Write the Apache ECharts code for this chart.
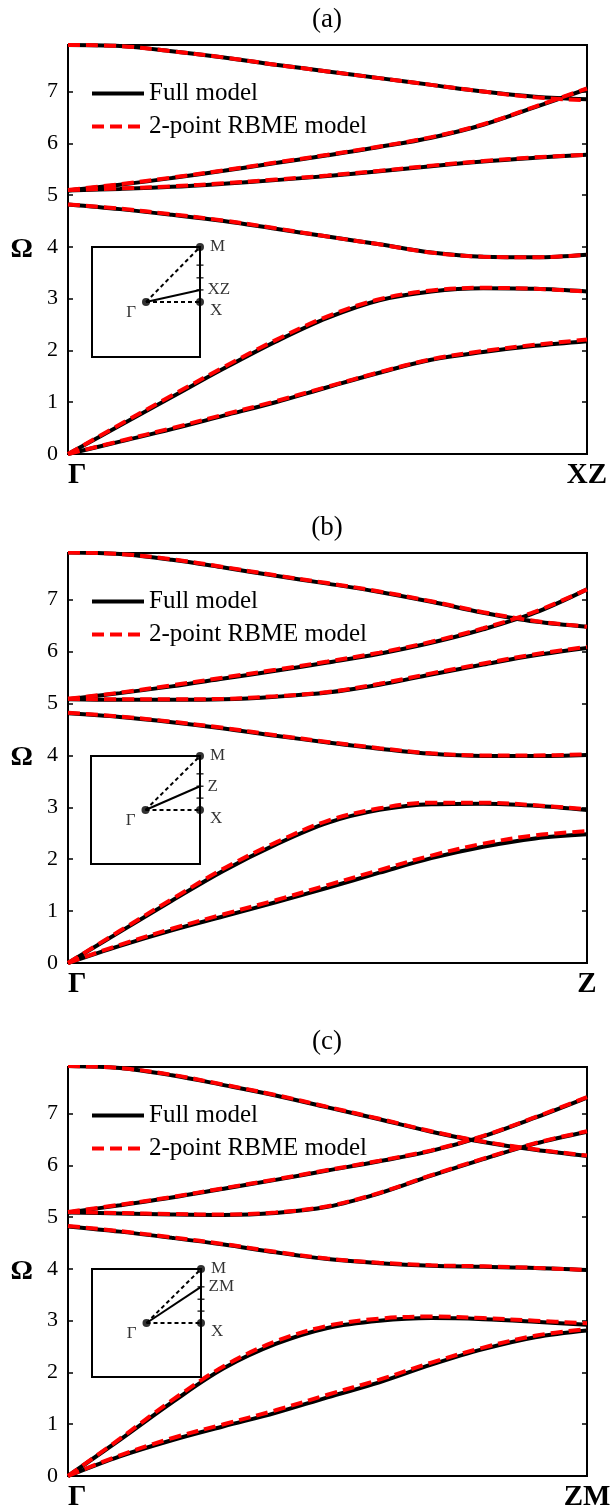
<!DOCTYPE html>
<html><head><meta charset="utf-8">
<script src="https://cdn.jsdelivr.net/npm/echarts@6/dist/echarts.min.js"></script>
<style>html,body{margin:0;padding:0;background:#fff}#c{width:616px;height:1512px}</style>
</head><body><div id="c"></div>
<script>
// ---------- data ----------
const K = [0, 0.1, 0.2, 0.3, 0.4, 0.5, 0.6, 0.7, 0.8, 0.9, 1];
const PANEL_TITLES = ['(a)', '(b)', '(c)'];
const START_LABEL = 'Γ';
const END_LABELS = ['XZ', 'Z', 'ZM'];
const SERIES_NAMES = ['Full model', '2-point RBME model'];
const Y_LABEL = 'Ω';

// panel (a): Γ -> XZ, six bands
const A_FULL = [
  [0, 0.24, 0.48, 0.74, 1.0, 1.29, 1.57, 1.82, 1.97, 2.09, 2.18],
  [0, 0.55, 1.1, 1.65, 2.17, 2.63, 2.97, 3.14, 3.2, 3.19, 3.14],
  [4.82, 4.73, 4.62, 4.5, 4.35, 4.2, 4.05, 3.89, 3.81, 3.8, 3.85],
  [5.09, 5.12, 5.16, 5.22, 5.29, 5.37, 5.46, 5.56, 5.65, 5.72, 5.78],
  [5.09, 5.2, 5.33, 5.47, 5.62, 5.77, 5.93, 6.11, 6.36, 6.7, 7.05],
  [7.9, 7.88, 7.78, 7.66, 7.52, 7.39, 7.26, 7.13, 7.0, 6.9, 6.85]
];
const A_RBME = [
  [0, 0.25, 0.5, 0.76, 1.02, 1.3, 1.58, 1.83, 1.99, 2.11, 2.21],
  [0, 0.57, 1.13, 1.68, 2.2, 2.66, 2.99, 3.16, 3.21, 3.19, 3.14],
  [4.82, 4.74, 4.63, 4.51, 4.36, 4.2, 4.05, 3.89, 3.81, 3.8, 3.85],
  [5.1, 5.13, 5.17, 5.23, 5.3, 5.38, 5.47, 5.57, 5.66, 5.73, 5.78],
  [5.1, 5.21, 5.34, 5.48, 5.63, 5.78, 5.94, 6.12, 6.37, 6.71, 7.06],
  [7.9, 7.88, 7.78, 7.66, 7.52, 7.39, 7.26, 7.13, 7.0, 6.89, 6.83]
];
// panel (b): Γ -> Z
const B_FULL = [
  [0, 0.33, 0.63, 0.9, 1.17, 1.45, 1.74, 2.02, 2.24, 2.4, 2.48],
  [0, 0.6, 1.2, 1.78, 2.28, 2.7, 2.95, 3.06, 3.07, 3.03, 2.95],
  [4.81, 4.74, 4.64, 4.52, 4.38, 4.25, 4.13, 4.03, 3.99, 3.99, 4.01],
  [5.08, 5.07, 5.07, 5.08, 5.13, 5.21, 5.36, 5.56, 5.75, 5.93, 6.07],
  [5.08, 5.2, 5.33, 5.48, 5.63, 5.79, 5.96, 6.17, 6.43, 6.75, 7.2],
  [7.91, 7.88, 7.77, 7.62, 7.46, 7.31, 7.15, 6.96, 6.75, 6.58, 6.48]
];
const B_RBME = [
  [0, 0.35, 0.66, 0.94, 1.21, 1.5, 1.79, 2.07, 2.3, 2.46, 2.54],
  [0, 0.62, 1.23, 1.82, 2.32, 2.74, 2.98, 3.09, 3.09, 3.04, 2.96],
  [4.82, 4.75, 4.65, 4.53, 4.39, 4.26, 4.14, 4.04, 4.0, 4.0, 4.02],
  [5.09, 5.08, 5.08, 5.09, 5.14, 5.22, 5.38, 5.58, 5.77, 5.95, 6.09],
  [5.09, 5.21, 5.35, 5.5, 5.65, 5.81, 5.98, 6.19, 6.45, 6.77, 7.2],
  [7.91, 7.88, 7.78, 7.63, 7.47, 7.32, 7.16, 6.97, 6.76, 6.59, 6.48]
];
// panel (c): Γ -> ZM
const C_FULL = [
  [0, 0.38, 0.69, 0.96, 1.22, 1.52, 1.81, 2.15, 2.45, 2.68, 2.81],
  [0, 0.7, 1.42, 2.08, 2.55, 2.86, 3.0, 3.05, 3.03, 2.98, 2.92],
  [4.82, 4.72, 4.6, 4.47, 4.32, 4.19, 4.11, 4.06, 4.04, 4.02, 3.98],
  [5.09, 5.07, 5.05, 5.04, 5.08, 5.2, 5.46, 5.8, 6.12, 6.42, 6.65],
  [5.09, 5.23, 5.38, 5.55, 5.72, 5.9, 6.08, 6.28, 6.56, 6.92, 7.31],
  [7.92, 7.88, 7.74, 7.55, 7.35, 7.12, 6.89, 6.65, 6.45, 6.3, 6.18]
];
const C_RBME = [
  [0, 0.4, 0.73, 1.0, 1.27, 1.57, 1.86, 2.19, 2.48, 2.71, 2.84],
  [0, 0.72, 1.46, 2.12, 2.6, 2.9, 3.04, 3.08, 3.05, 3.0, 2.95],
  [4.83, 4.73, 4.61, 4.48, 4.33, 4.2, 4.12, 4.07, 4.05, 4.02, 3.98],
  [5.1, 5.08, 5.06, 5.05, 5.09, 5.21, 5.47, 5.81, 6.13, 6.43, 6.66],
  [5.1, 5.24, 5.39, 5.56, 5.73, 5.91, 6.09, 6.29, 6.57, 6.93, 7.32],
  [7.92, 7.88, 7.75, 7.56, 7.36, 7.13, 6.9, 6.66, 6.46, 6.31, 6.19]
];
const FULL = [A_FULL, B_FULL, C_FULL];
const RBME = [A_RBME, B_RBME, C_RBME];

// inset (Brillouin zone sketch): Γ centre, X edge midpoint, M corner
const INSET_G = [0, 0];
const INSET_X = [1, 0];
const INSET_M = [1, 1];
const INSET_PATH_END_Y = [0.22, 0.44, 0.67];  // where each path meets the zone edge
const INSET_EDGE_TICKS = [0.22, 0.44, 0.67];

// ---------- layout ----------
const FONT = '"Liberation Serif", "Times New Roman", serif';
const FRAMES = [{top: 45, height: 409}, {top: 553, height: 410}, {top: 1067, height: 409}];
const INSETS = [
  {left: 92, top: 247, width: 108, height: 110},
  {left: 91, top: 756, width: 109, height: 108},
  {left: 92, top: 1269, width: 109, height: 108}
];
const PLOT_LEFT = 68, PLOT_WIDTH = 519;
const BLACK_LINE = {color: '#000', width: 4};
const RED_LINE = {color: '#ff0000', width: 4, type: [12, 6]};

const grid = [], xAxis = [], yAxis = [], series = [], legend = [], title = [];

for (let i = 0; i < 3; i++) {
  grid.push({left: PLOT_LEFT, width: PLOT_WIDTH, top: FRAMES[i].top, height: FRAMES[i].height,
    show: true, borderColor: '#000', borderWidth: 2, backgroundColor: 'transparent'});
}
for (let i = 0; i < 3; i++) {
  grid.push({left: INSETS[i].left, top: INSETS[i].top, width: INSETS[i].width, height: INSETS[i].height,
    show: true, borderColor: '#000', borderWidth: 2, backgroundColor: '#fff', z: 5});
}

for (let i = 0; i < 3; i++) {
  xAxis.push({gridIndex: i, type: 'value', min: 0, max: 1, interval: 1,
    axisLine: {show: false}, axisTick: {show: false}, splitLine: {show: false},
    axisLabel: {formatter: v => (v === 0 ? START_LABEL : END_LABELS[i]), fontFamily: FONT, fontWeight: 'bold',
      fontSize: 29, color: '#000', margin: 7, alignMinLabel: 'left'}});
}
for (let i = 0; i < 3; i++) {
  xAxis.push({gridIndex: 3 + i, type: 'value', min: -1, max: 1, show: false});
}

const tickStyle = {show: true, inside: true, length: 5, lineStyle: {color: '#000', width: 1.5}};
for (let i = 0; i < 3; i++) {
  yAxis.push({gridIndex: i, type: 'value', min: 0, max: 7.9, interval: 1, position: 'left',
    axisLine: {show: false}, axisTick: tickStyle, splitLine: {show: false},
    axisLabel: {formatter: v => (Number.isInteger(v) ? String(v) : ''), fontFamily: FONT, fontSize: 22, color: '#000', margin: 10},
    name: Y_LABEL, nameLocation: 'middle', nameRotate: 0, nameGap: 35,
    nameTextStyle: {fontFamily: FONT, fontWeight: 'bold', fontSize: 28, color: '#000'}});
}
for (let i = 0; i < 3; i++) {
  yAxis.push({gridIndex: i, type: 'value', min: 0, max: 7.9, interval: 1, position: 'right',
    axisLine: {show: false}, axisTick: tickStyle, splitLine: {show: false}, axisLabel: {show: false}});
}
for (let i = 0; i < 3; i++) {
  yAxis.push({gridIndex: 3 + i, type: 'value', min: -1, max: 1, show: false});
}

for (let i = 0; i < 3; i++) {
  for (let j = 0; j < 6; j++) {
    series.push({type: 'line', name: SERIES_NAMES[0], xAxisIndex: i, yAxisIndex: i,
      data: K.map((k, n) => [k, FULL[i][j][n]]), smooth: 0.35, symbol: 'none', silent: true,
      lineStyle: BLACK_LINE, itemStyle: {color: '#000'}, z: 2});
  }
  for (let j = 0; j < 6; j++) {
    series.push({type: 'line', name: SERIES_NAMES[1], xAxisIndex: i, yAxisIndex: i,
      data: K.map((k, n) => [k, RBME[i][j][n]]), smooth: 0.35, symbol: 'none', silent: true,
      lineStyle: RED_LINE, itemStyle: {color: '#ff0000'}, z: 3});
  }
  legend.push({
    data: [
      {name: SERIES_NAMES[0], itemStyle: {opacity: 0}, lineStyle: BLACK_LINE},
      {name: SERIES_NAMES[1], itemStyle: {opacity: 0}, lineStyle: RED_LINE}
    ],
    orient: 'vertical', left: 85, top: FRAMES[i].top + 31,
    itemWidth: 52, itemHeight: 14, itemGap: 8, selectedMode: false,
    textStyle: {fontFamily: FONT, fontSize: 25, color: '#000'}});
  title.push({text: PANEL_TITLES[i], left: 327, top: FRAMES[i].top - 39, textAlign: 'center', padding: 0,
    textStyle: {fontFamily: FONT, fontWeight: 'normal', fontSize: 27, color: '#000'}});

  // inset
  const xi = 3 + i, yi = 6 + i;
  const insetLabel = {fontFamily: FONT, fontSize: 17, color: '#000'};
  series.push({type: 'line', xAxisIndex: xi, yAxisIndex: yi, data: [INSET_G, INSET_M], symbol: 'none', silent: true,
    lineStyle: {color: '#000', width: 2, type: [4, 3]}, z: 6});
  series.push({type: 'line', xAxisIndex: xi, yAxisIndex: yi, data: [INSET_G, INSET_X], symbol: 'none', silent: true,
    lineStyle: {color: '#000', width: 2, type: [4, 3]}, z: 6});
  series.push({type: 'line', xAxisIndex: xi, yAxisIndex: yi, data: [INSET_G, [1, INSET_PATH_END_Y[i]]], symbol: 'none', silent: true,
    lineStyle: {color: '#000', width: 2}, z: 6});
  series.push({type: 'scatter', xAxisIndex: xi, yAxisIndex: yi, data: INSET_EDGE_TICKS.map(v => [1, v]),
    symbol: 'rect', symbolSize: [7, 1.5], itemStyle: {color: '#000'}, silent: true, clip: false, z: 7});
  series.push({type: 'scatter', xAxisIndex: xi, yAxisIndex: yi, clip: false, silent: true, z: 8,
    symbolSize: 8, itemStyle: {color: '#000'},
    data: [
      {value: INSET_G, label: {show: true, formatter: 'Γ', position: 'left', distance: 6, offset: [0, 11], ...insetLabel}},
      {value: INSET_X, label: {show: true, formatter: 'X', position: 'right', distance: 6, offset: [0, 9], ...insetLabel}},
      {value: INSET_M, label: {show: true, formatter: 'M', position: 'right', distance: 6, ...insetLabel}}
    ]});
  series.push({type: 'scatter', xAxisIndex: xi, yAxisIndex: yi, clip: false, silent: true, z: 8,
    symbolSize: 1, itemStyle: {color: 'transparent'},
    data: [{value: [1, INSET_PATH_END_Y[i]], label: {show: true, formatter: END_LABELS[i], position: 'right', distance: 7, ...insetLabel}}]});
}

const chart = echarts.init(document.getElementById('c'), null, {renderer: 'canvas'});
chart.setOption({animation: false, backgroundColor: '#fff', title, legend, grid, xAxis, yAxis, series});
</script></body></html>
